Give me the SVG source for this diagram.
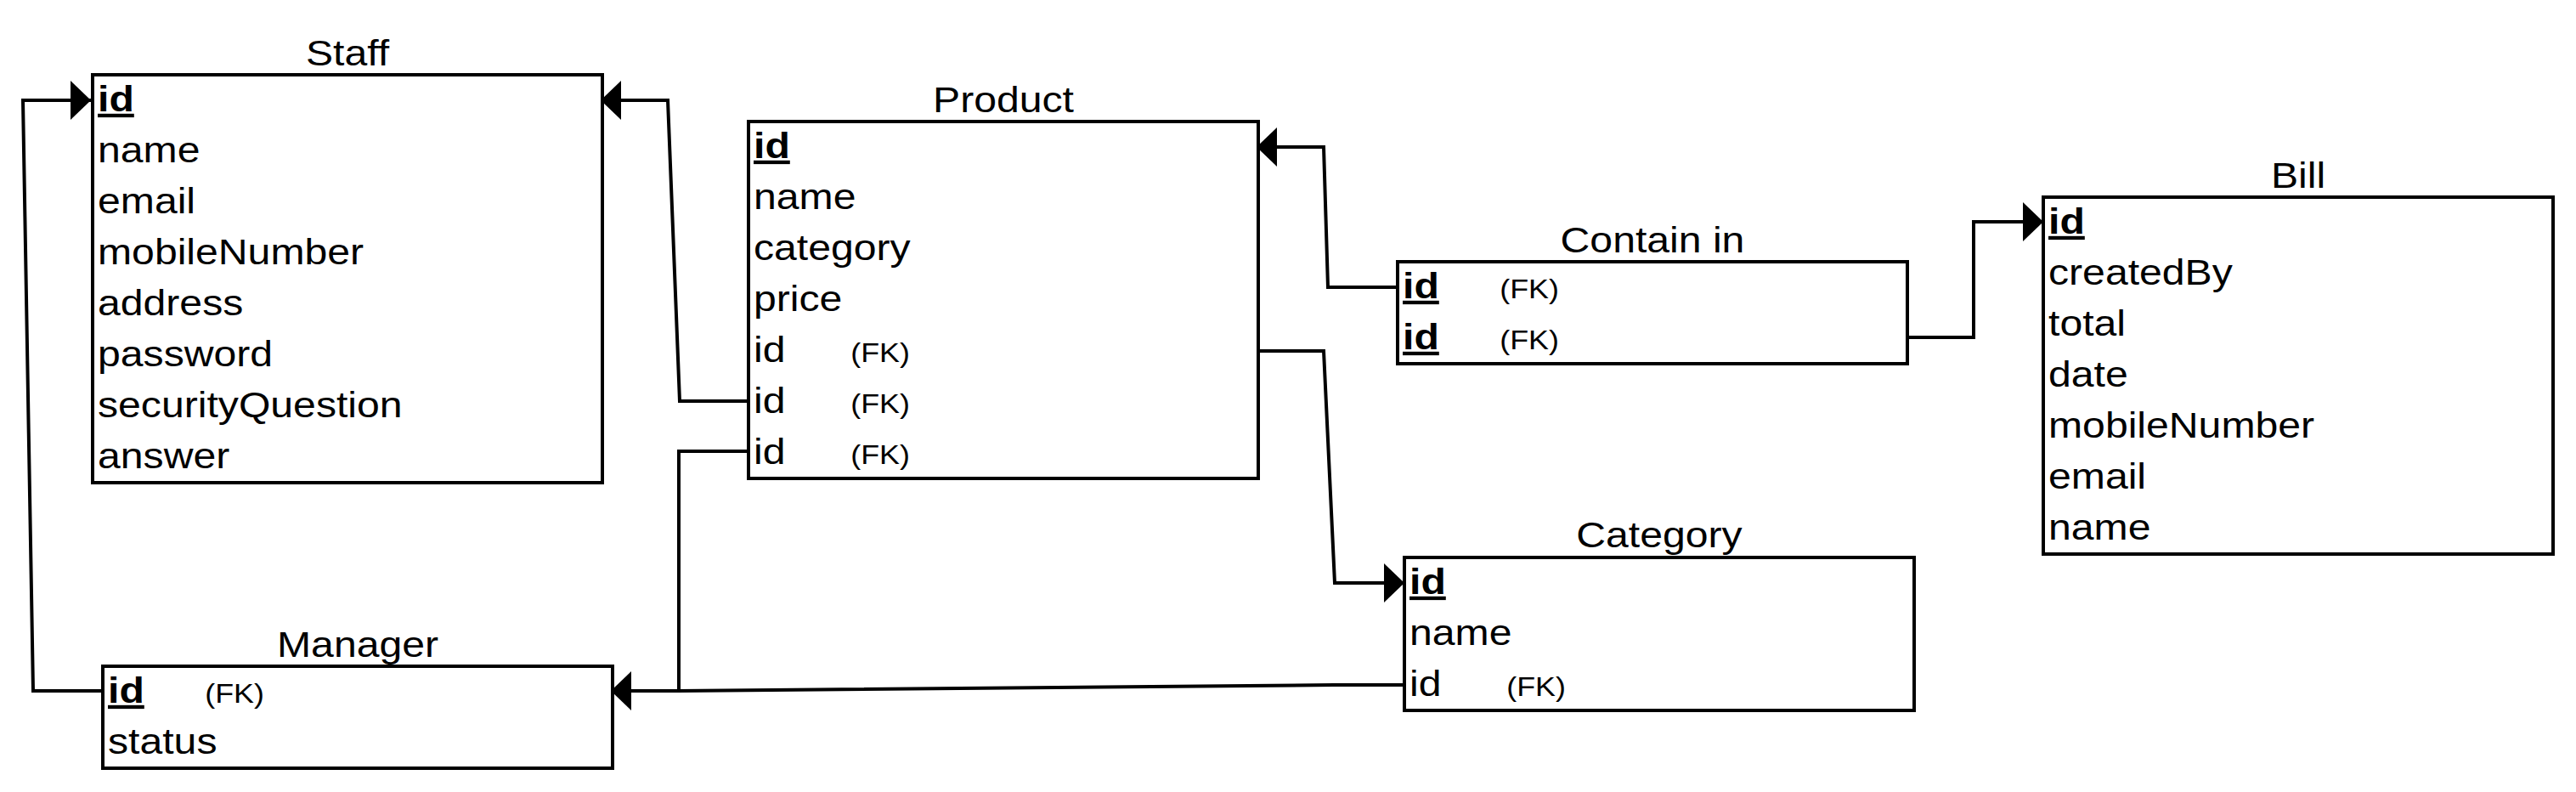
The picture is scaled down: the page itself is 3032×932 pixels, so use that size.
<svg xmlns="http://www.w3.org/2000/svg" width="3032" height="932" viewBox="0 0 3032 932">
<style>
.box{fill:#fff;stroke:#000;stroke-width:4}
.t{font-family:"Liberation Sans",Arial,Helvetica,sans-serif;font-size:43px;fill:#000}
.ttl{text-anchor:middle}
.pk{font-weight:bold;text-decoration:underline}
.fk{font-family:"Liberation Sans",Arial,Helvetica,sans-serif;font-size:32px;fill:#000}
.edge{fill:none;stroke:#000;stroke-width:4;stroke-linejoin:miter}
</style>
<defs>
<marker id="arr" markerUnits="userSpaceOnUse" markerWidth="26" markerHeight="48" refX="24" refY="23" orient="auto" viewBox="0 0 26 48">
<path d="M0,0 L24,23 L0,46 Z" fill="#000"/>
</marker>
</defs>
<rect x="0" y="0" width="3032" height="932" fill="#fff"/>

<g id="connectors">
<path class="edge" d="M121,813 L39,813 L27,118 L107,118" marker-end="url(#arr)"/>
<path class="edge" d="M881,472 L800,472 L786,118 L707,118" marker-end="url(#arr)"/>
<path class="edge" d="M881,531 L799,531 L799,813 L719,813" marker-end="url(#arr)"/>
<path class="edge" d="M1653,806 L1570,806 L799,813"/>
<path class="edge" d="M1645,338 L1563,338 L1558,173 L1479,173" marker-end="url(#arr)"/>
<path class="edge" d="M1481,413 L1558,413 L1571,686 L1653,686" marker-end="url(#arr)"/>
<path class="edge" d="M2245,397 L2323,397 L2323,261 L2405,261" marker-end="url(#arr)"/>
</g>

<g id="staff">
<rect class="box" x="109" y="88" width="600" height="480"/>
<text class="t ttl" transform="translate(409,77) scale(1.12,1)">Staff</text>
<g transform="translate(115,88) scale(1.12,1)">
<text class="t pk" x="0" y="43">id</text>
<text class="t" x="0" y="103">name</text>
<text class="t" x="0" y="163">email</text>
<text class="t" x="0" y="223">mobileNumber</text>
<text class="t" x="0" y="283">address</text>
<text class="t" x="0" y="343">password</text>
<text class="t" x="0" y="403">securityQuestion</text>
<text class="t" x="0" y="463">answer</text>
</g>
</g>

<g id="product">
<rect class="box" x="881" y="143" width="600" height="420"/>
<text class="t ttl" transform="translate(1181,132) scale(1.12,1)">Product</text>
<g transform="translate(887,143) scale(1.12,1)">
<text class="t pk" x="0" y="43">id</text>
<text class="t" x="0" y="103">name</text>
<text class="t" x="0" y="163">category</text>
<text class="t" x="0" y="223">price</text>
<text class="t" x="0" y="283">id</text><text class="fk" x="102" y="283">(FK)</text>
<text class="t" x="0" y="343">id</text><text class="fk" x="102" y="343">(FK)</text>
<text class="t" x="0" y="403">id</text><text class="fk" x="102" y="403">(FK)</text>
</g>
</g>

<g id="containin">
<rect class="box" x="1645" y="308" width="600" height="120"/>
<text class="t ttl" transform="translate(1945,297) scale(1.12,1)">Contain in</text>
<g transform="translate(1651,308) scale(1.12,1)">
<text class="t pk" x="0" y="43">id</text><text class="fk" x="102" y="43">(FK)</text>
<text class="t pk" x="0" y="103">id</text><text class="fk" x="102" y="103">(FK)</text>
</g>
</g>

<g id="bill">
<rect class="box" x="2405" y="232" width="600" height="420"/>
<text class="t ttl" transform="translate(2705,221) scale(1.12,1)">Bill</text>
<g transform="translate(2411,232) scale(1.12,1)">
<text class="t pk" x="0" y="43">id</text>
<text class="t" x="0" y="103">createdBy</text>
<text class="t" x="0" y="163">total</text>
<text class="t" x="0" y="223">date</text>
<text class="t" x="0" y="283">mobileNumber</text>
<text class="t" x="0" y="343">email</text>
<text class="t" x="0" y="403">name</text>
</g>
</g>

<g id="category">
<rect class="box" x="1653" y="656" width="600" height="180"/>
<text class="t ttl" transform="translate(1953,644) scale(1.12,1)">Category</text>
<g transform="translate(1659,656) scale(1.12,1)">
<text class="t pk" x="0" y="43">id</text>
<text class="t" x="0" y="103">name</text>
<text class="t" x="0" y="163">id</text><text class="fk" x="102" y="163">(FK)</text>
</g>
</g>

<g id="manager">
<rect class="box" x="121" y="784" width="600" height="120"/>
<text class="t ttl" transform="translate(421,773) scale(1.12,1)">Manager</text>
<g transform="translate(127,784) scale(1.12,1)">
<text class="t pk" x="0" y="43">id</text><text class="fk" x="102" y="43">(FK)</text>
<text class="t" x="0" y="103">status</text>
</g>
</g>
</svg>
